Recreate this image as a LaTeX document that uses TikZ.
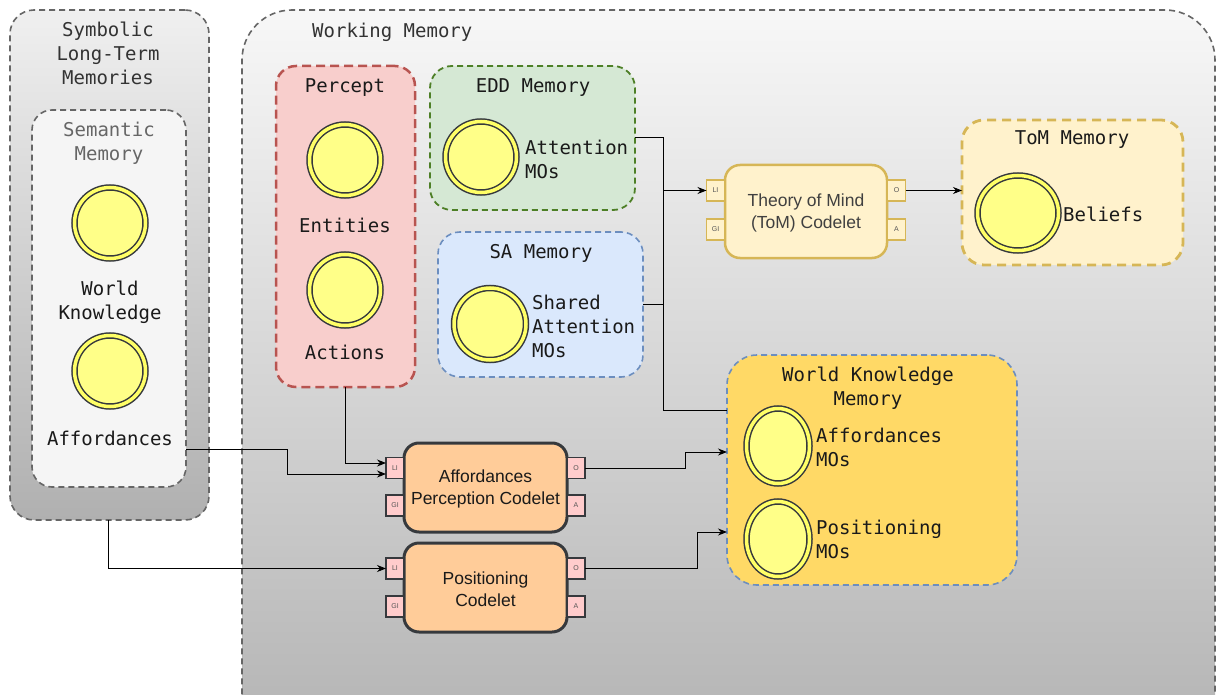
\documentclass[tikz,border=0pt]{standalone}
\usepackage{fontspec}
\newfontfamily\mono{DejaVu Sans Mono}
\newfontfamily\sansf{Liberation Sans}
\usetikzlibrary{arrows.meta,shapes.geometric}
\definecolor{txt}{HTML}{1A1A1A}
\definecolor{gtxt}{HTML}{666666}
\definecolor{gline}{HTML}{666666}
\definecolor{ring}{HTML}{36393D}
\definecolor{yfill}{HTML}{FFFF88}
\definecolor{yband}{HTML}{FFFF66}
\definecolor{pfill}{HTML}{F8CECC}
\definecolor{pline}{HTML}{B85450}
\definecolor{efill}{HTML}{D5E8D4}
\definecolor{eline}{HTML}{4D7F26}
\definecolor{bfill}{HTML}{DAE8FC}
\definecolor{bline}{HTML}{6C8EBF}
\definecolor{tfill}{HTML}{FFF2CC}
\definecolor{tline}{HTML}{D6B656}
\definecolor{wfill}{HTML}{FFD966}
\definecolor{ofill}{HTML}{FFCC99}
\definecolor{portfill}{HTML}{FFCCCC}
\definecolor{porttxt}{HTML}{555555}
\begin{document}
\begin{tikzpicture}[x=1pt,y=-1pt,
  box/.style={rectangle,inner sep=0pt,outer sep=0pt},
  gbox/.style={box,draw=gline,line width=1.6pt,dash pattern=on 6pt off 4pt},
  mtxt/.style={font=\mono\fontsize{19}{24}\selectfont,text=txt,inner sep=0pt},
  stxt/.style={font=\sansf\fontsize{17.5}{22}\selectfont,text=txt,inner sep=0pt,align=center},
  mo/.style={circle,draw=ring,line width=1.5pt,double=yband,double distance=3.5pt,fill=yfill,inner sep=0pt,minimum size=#1},
  moe/.style={ellipse,draw=ring,line width=1.5pt,double=yband,double distance=3.5pt,fill=yfill,inner sep=0pt},
  port/.style={box,minimum width=18pt,minimum height=21pt,font=\sansf\fontsize{7}{8}\selectfont,text=porttxt},
  ocport/.style={port,fill=portfill,draw=ring,line width=1.5pt},
  tport/.style={port,fill=tfill,draw=tline,line width=1.5pt},
  codelet/.style={box,rounded corners=15pt,fill=ofill,draw=ring,line width=3pt,minimum width=163pt,minimum height=89pt},
  arr/.style={-{Stealth[length=9pt,width=7pt]},line width=1pt,draw=black},
  link/.style={line width=1pt,draw=black}
]
\useasboundingbox (0,0) rectangle (1217,695);
\clip (0,0) rectangle (1217,695);
\fill[white] (0,0) rectangle (1217,695);

% Symbolic long-term memories
\node[gbox,rounded corners=24pt,top color=black!6,bottom color=black!31,minimum width=199pt,minimum height=510pt] (ltm) at (109.5,265) {};
\node[mtxt,align=center,text=black!80] (ltmt) at (108,53.5) {Symbolic\\Long-Term\\Memories};
\node[gbox,rounded corners=20pt,fill=black!4,minimum width=154pt,minimum height=377pt] (sem) at (109,298.5) {};
\node[mtxt,align=center,text=gtxt] (semt) at (109,143.5) {Semantic\\Memory};
\node[mo=71pt] (wk) at (110,223) {};
\node[mtxt,align=center] (wkt) at (110,302) {World\\Knowledge};
\node[mo=71pt] (aff) at (110,371) {};
\node[mtxt] (afft) at (110,438) {Affordances};

% Working memory
\node[gbox,rounded corners=50pt,top color=black!3,bottom color=black!30,minimum width=973pt,minimum height=740pt] (wm) at (728.5,380) {};
\node[mtxt,anchor=west,text=black!80] (wmt) at (312,32) {Working Memory};

% Percept
\node[box,rounded corners=20pt,fill=pfill,draw=pline,line width=2.5pt,dash pattern=on 9pt off 5pt,minimum width=139pt,minimum height=321pt] (percept) at (345.5,226.5) {};
\node[mtxt] (perceptt) at (345,88) {Percept};
\node[mo=71pt] (ent) at (345,160) {};
\node[mtxt] (entt) at (345,225) {Entities};
\node[mo=71pt] (act) at (345,290) {};
\node[mtxt] (actt) at (345,352) {Actions};

% EDD memory
\node[box,rounded corners=22pt,fill=efill,draw=eline,line width=1.8pt,dash pattern=on 6pt off 4pt,minimum width=205pt,minimum height=144pt] (edd) at (532.5,138) {};
\node[mtxt] (eddt) at (533,88) {EDD Memory};
\node[mo=71pt] (att) at (481,157) {};
\node[mtxt,anchor=west,align=left] (attt) at (525,159.5) {Attention\\MOs};

% SA memory
\node[box,rounded corners=22pt,fill=bfill,draw=bline,line width=1.6pt,dash pattern=on 6pt off 4pt,minimum width=205pt,minimum height=145pt] (sa) at (540.5,304.5) {};
\node[mtxt] (sat) at (541,253) {SA Memory};
\node[mo=72pt] (sha) at (490,324) {};
\node[mtxt,anchor=west,align=left] (shat) at (532,326) {Shared\\Attention\\MOs};

% ToM codelet
\node[box,rounded corners=15pt,fill=tfill,draw=tline,line width=2.5pt,minimum width=162pt,minimum height=93pt] (tomc) at (806,211.5) {};
\node[stxt,text=black!75] (tomct) at (806,213) {Theory of Mind\\(ToM) Codelet};
\node[tport] (tomli) at (715.5,190.5) {LI};
\node[tport] (tomgi) at (715.5,229.5) {GI};
\node[tport] (tomo) at (896.5,190.5) {O};
\node[tport] (toma) at (896.5,229.5) {A};

% ToM memory
\node[box,rounded corners=22pt,fill=tfill,draw=tline,line width=2.8pt,dash pattern=on 9pt off 6pt,minimum width=221pt,minimum height=145pt] (tomm) at (1072.5,192.5) {};
\node[mtxt] (tommt) at (1072,140) {ToM Memory};
\node[moe,minimum width=81pt,minimum height=75pt] (bel) at (1018,213) {};
\node[mtxt,anchor=west] (belt) at (1063,214) {Beliefs};

% World knowledge memory
\node[box,rounded corners=30pt,fill=wfill,draw=bline,line width=1.6pt,dash pattern=on 6pt off 4pt,minimum width=290pt,minimum height=230pt] (wkm) at (872,470) {};
\node[mtxt,align=center] (wkmt) at (868,388) {World Knowledge\\Memory};
\node[moe,minimum width=63pt,minimum height=75pt] (affmo) at (778,446) {};
\node[mtxt,anchor=west,align=left] (affmot) at (816,447) {Affordances\\MOs};
\node[moe,minimum width=63pt,minimum height=75pt] (posmo) at (778,539) {};
\node[mtxt,anchor=west,align=left] (posmot) at (816,539.5) {Positioning\\MOs};

% Affordances perception codelet
\node[codelet] (apc) at (485.5,487.5) {};
\node[stxt] (apct) at (485.5,489) {Affordances\\Perception Codelet};
\node[ocport] (apcli) at (395,468) {LI};
\node[ocport] (apcgi) at (395,505.5) {GI};
\node[ocport] (apco) at (576,468) {O};
\node[ocport] (apca) at (576,505.5) {A};

% Positioning codelet
\node[codelet] (pc) at (485.5,587.5) {};
\node[stxt] (pct) at (485.5,589) {Positioning\\Codelet};
\node[ocport] (pcli) at (395,568.5) {LI};
\node[ocport] (pcgi) at (395,606.5) {GI};
\node[ocport] (pco) at (576,568.5) {O};
\node[ocport] (pca) at (576,606.5) {A};

% connector coordinates
\coordinate (j) at (663,191);
\coordinate (wkin0) at (727,410);
\coordinate (wkin1) at (727,452);
\coordinate (wkin2) at (727,532);
\coordinate (semout) at (186,449);
\coordinate (ltmout) at (108,520);

% connectors
\draw[arr] (edd.east) -| (j) |- (tomli.west);
\draw[link] (sa.east) -| (j);
\draw[link] (j) |- (wkin0);
\draw[arr] (tomo.east) -- (tomo.east -| tomm.west);
\draw[arr] (percept.south) |- ([yshift=5pt]apcli.west);
\draw[arr] (semout) -- (287,449) |- ([yshift=-6pt]apcli.west);
\draw[arr] (ltmout) |- (pcli.west);
\draw[arr] (apco.east) -- (685,468) |- (wkin1);
\draw[arr] (pco.east) -- (697,568.5) |- (wkin2);
\end{tikzpicture}
\end{document}
